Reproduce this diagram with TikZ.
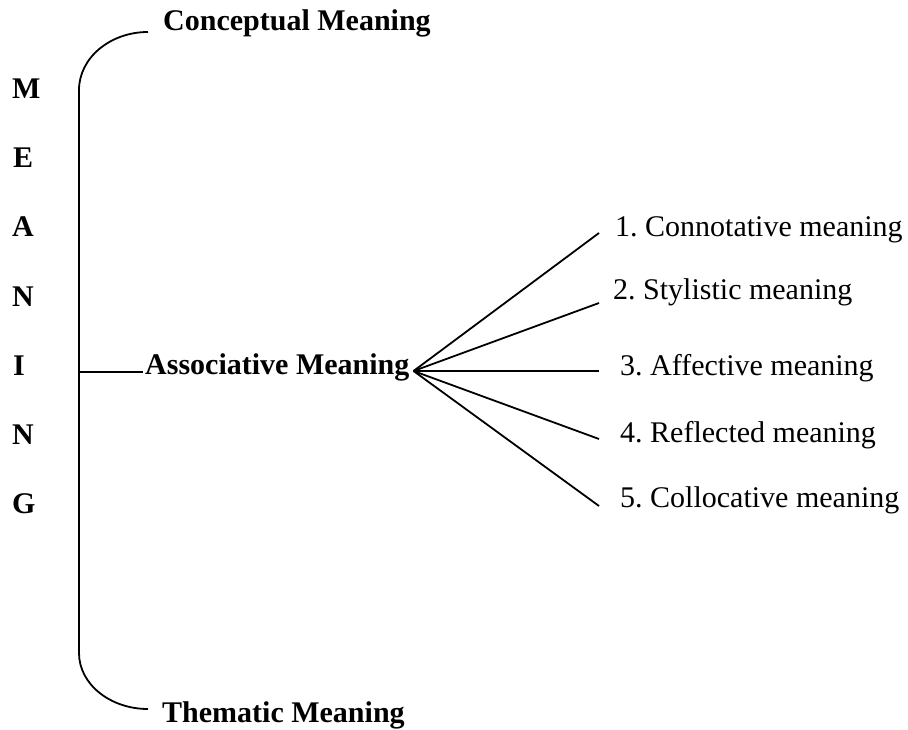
\documentclass[tikz,border=0pt]{standalone}
\usepackage{fontspec}
\setmainfont{Liberation Serif}
\frenchspacing

\tikzset{
  head/.style={font=\fontsize{30}{36}\selectfont\bfseries, inner sep=0pt, anchor=base west},
  letter/.style={head},
  kind/.style={font=\fontsize{30}{36}\selectfont, inner sep=0pt, anchor=base west},
  link/.style={line width=1.8pt},
}

\begin{document}
\begin{tikzpicture}[x=1pt, y=-1pt]
  \useasboundingbox (0,0) rectangle (908,730);

  % Define nodes
  \node[head] (concept) at (163,31) {Conceptual Meaning};
  \node[head] (assoc) at (145,374) {Associative Meaning};
  \node[head] (theme) at (162,722) {Thematic Meaning};

  \node[letter] (m) at (12,99) {M};
  \node[letter] (e) at (13,168) {E};
  \node[letter] (a) at (12,237) {A};
  \node[letter] (n1) at (12,306) {N};
  \node[letter] (i) at (13,375) {I};
  \node[letter] (n2) at (12,444) {N};
  \node[letter] (g) at (12,513) {G};

  \node[kind] (k1) at (615,237) {1. Connotative meaning};
  \node[kind] (k2) at (613,299) {2. Stylistic meaning};
  \node[kind] (k3) at (620,375) {3. Affective meaning};
  \node[kind] (k4) at (620,442) {4. Reflected meaning};
  \node[kind] (k5) at (620,507) {5. Collocative meaning};

  % Bracket and fan points
  \coordinate (top) at ([xshift=-15pt,yshift=-1pt]concept.base west);
  \coordinate (bot) at ([xshift=-14pt,yshift=13pt]theme.base west);
  \coordinate (hub) at (79,372);
  \coordinate (fan) at ([xshift=4pt,yshift=3pt]assoc.base east);
  \coordinate (e1) at (599,233);
  \coordinate (e2) at (599,303);
  \coordinate (e3) at (599,371);
  \coordinate (e4) at (599,439);
  \coordinate (e5) at (599,506);

  % Connect the nodes
  \draw[link] (top) .. controls (110,32) and (79,58) .. (79,90)
    -- (79,653) .. controls (79,684) and (110,709) .. (bot);
  \draw[link] (hub) -- ([xshift=-2pt,yshift=2pt]assoc.base west);
  \draw[link] (fan) -- (e1);
  \draw[link] (fan) -- (e2);
  \draw[link] (fan) -- (e3);
  \draw[link] (fan) -- (e4);
  \draw[link] (fan) -- (e5);

\end{tikzpicture}
\end{document}
